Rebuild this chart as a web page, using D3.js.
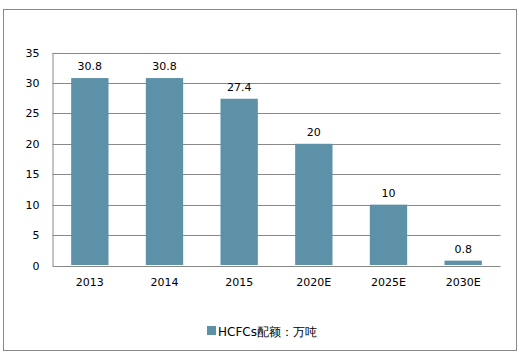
<!DOCTYPE html>
<html>
<head>
	<script src="https://cdn.jsdelivr.net/npm/d3@7/dist/d3.min.js"></script>
	<style>
		body { margin: 0; background: white; }
		text { font-family: "DejaVu Sans", Verdana, sans-serif; font-size: 11px; fill: #000; }
	</style>
</head>
<body>
	<script>

		var width = 519, height = 353;

		// data
		var categories = ["2013", "2014", "2015", "2020E", "2025E", "2030E"];
		var values     = [30.8, 30.8, 27.4, 20, 10, 0.8];
		var labels     = ["30.8", "30.8", "27.4", "20", "10", "0.8"];
		var yTicks     = [0, 5, 10, 15, 20, 25, 30, 35];
		var seriesName = "HCFCs配额：万吨";

		var bar_color  = "#5d91a7";
		var grid_color = "#888888";

		var svg = d3.select("body").append("svg")
			.attr("width", width)
			.attr("height", height);

		// outer frame
		svg.append("rect")
			.attr("x", 3.5).attr("y", 9.5)
			.attr("width", 513).attr("height", 341)
			.attr("fill", "white")
			.attr("stroke", grid_color);

		var plot = { left: 52.5, top: 52.5, right: 500.5, bottom: 265.5 };

		var x = d3.scaleBand()
			.domain(categories)
			.range([plot.left, plot.right])
			.paddingInner(0.5)
			.paddingOuter(0.25);

		var y = d3.scaleLinear()
			.domain([0, 35])
			.range([plot.bottom, plot.top]);

		// gridlines
		svg.append("g").selectAll("line")
			.data(yTicks)
			.enter().append("line")
			.attr("x1", plot.left).attr("x2", plot.right)
			.attr("y1", function(d) { return Math.round(y(d)) + 0.5; })
			.attr("y2", function(d) { return Math.round(y(d)) + 0.5; })
			.attr("stroke", grid_color);

		// y axis
		var yAxis = svg.append("g")
			.attr("transform", "translate(" + plot.left + ",0)")
			.call(d3.axisLeft(y).tickValues(yTicks).tickSize(0).tickPadding(13));
		yAxis.select(".domain").attr("stroke", grid_color);
		yAxis.selectAll("text").attr("fill", "#000").style("font-size", "11px")
			.style("font-family", "DejaVu Sans, Verdana, sans-serif");

		// x axis labels
		var xAxis = svg.append("g")
			.attr("transform", "translate(0," + plot.bottom + ")")
			.call(d3.axisBottom(x).tickSize(0).tickPadding(13));
		xAxis.select(".domain").remove();
		xAxis.selectAll("text").attr("fill", "#000").style("font-size", "11px")
			.style("font-family", "DejaVu Sans, Verdana, sans-serif");

		// bars
		svg.append("g").selectAll("rect")
			.data(values)
			.enter().append("rect")
			.attr("x", function(d, i) { return x(categories[i]); })
			.attr("y", function(d) { return y(d); })
			.attr("width", x.bandwidth())
			.attr("height", function(d) { return plot.bottom - 0.5 - y(d); })
			.attr("fill", bar_color);

		// value labels
		svg.append("g").selectAll("text")
			.data(values)
			.enter().append("text")
			.attr("x", function(d, i) { return x(categories[i]) + x.bandwidth() / 2; })
			.attr("y", function(d) { return y(d) - 8; })
			.attr("text-anchor", "middle")
			.text(function(d, i) { return labels[i]; });

		// legend
		var legend = svg.append("g").attr("transform", "translate(207,326)");
		legend.append("rect")
			.attr("width", 9).attr("height", 9)
			.attr("fill", bar_color);
		legend.append("text")
			.attr("x", 11).attr("y", 9.5)
			.style("font-size", "12px")
			.text(seriesName);

	</script>
</body>
</html>
